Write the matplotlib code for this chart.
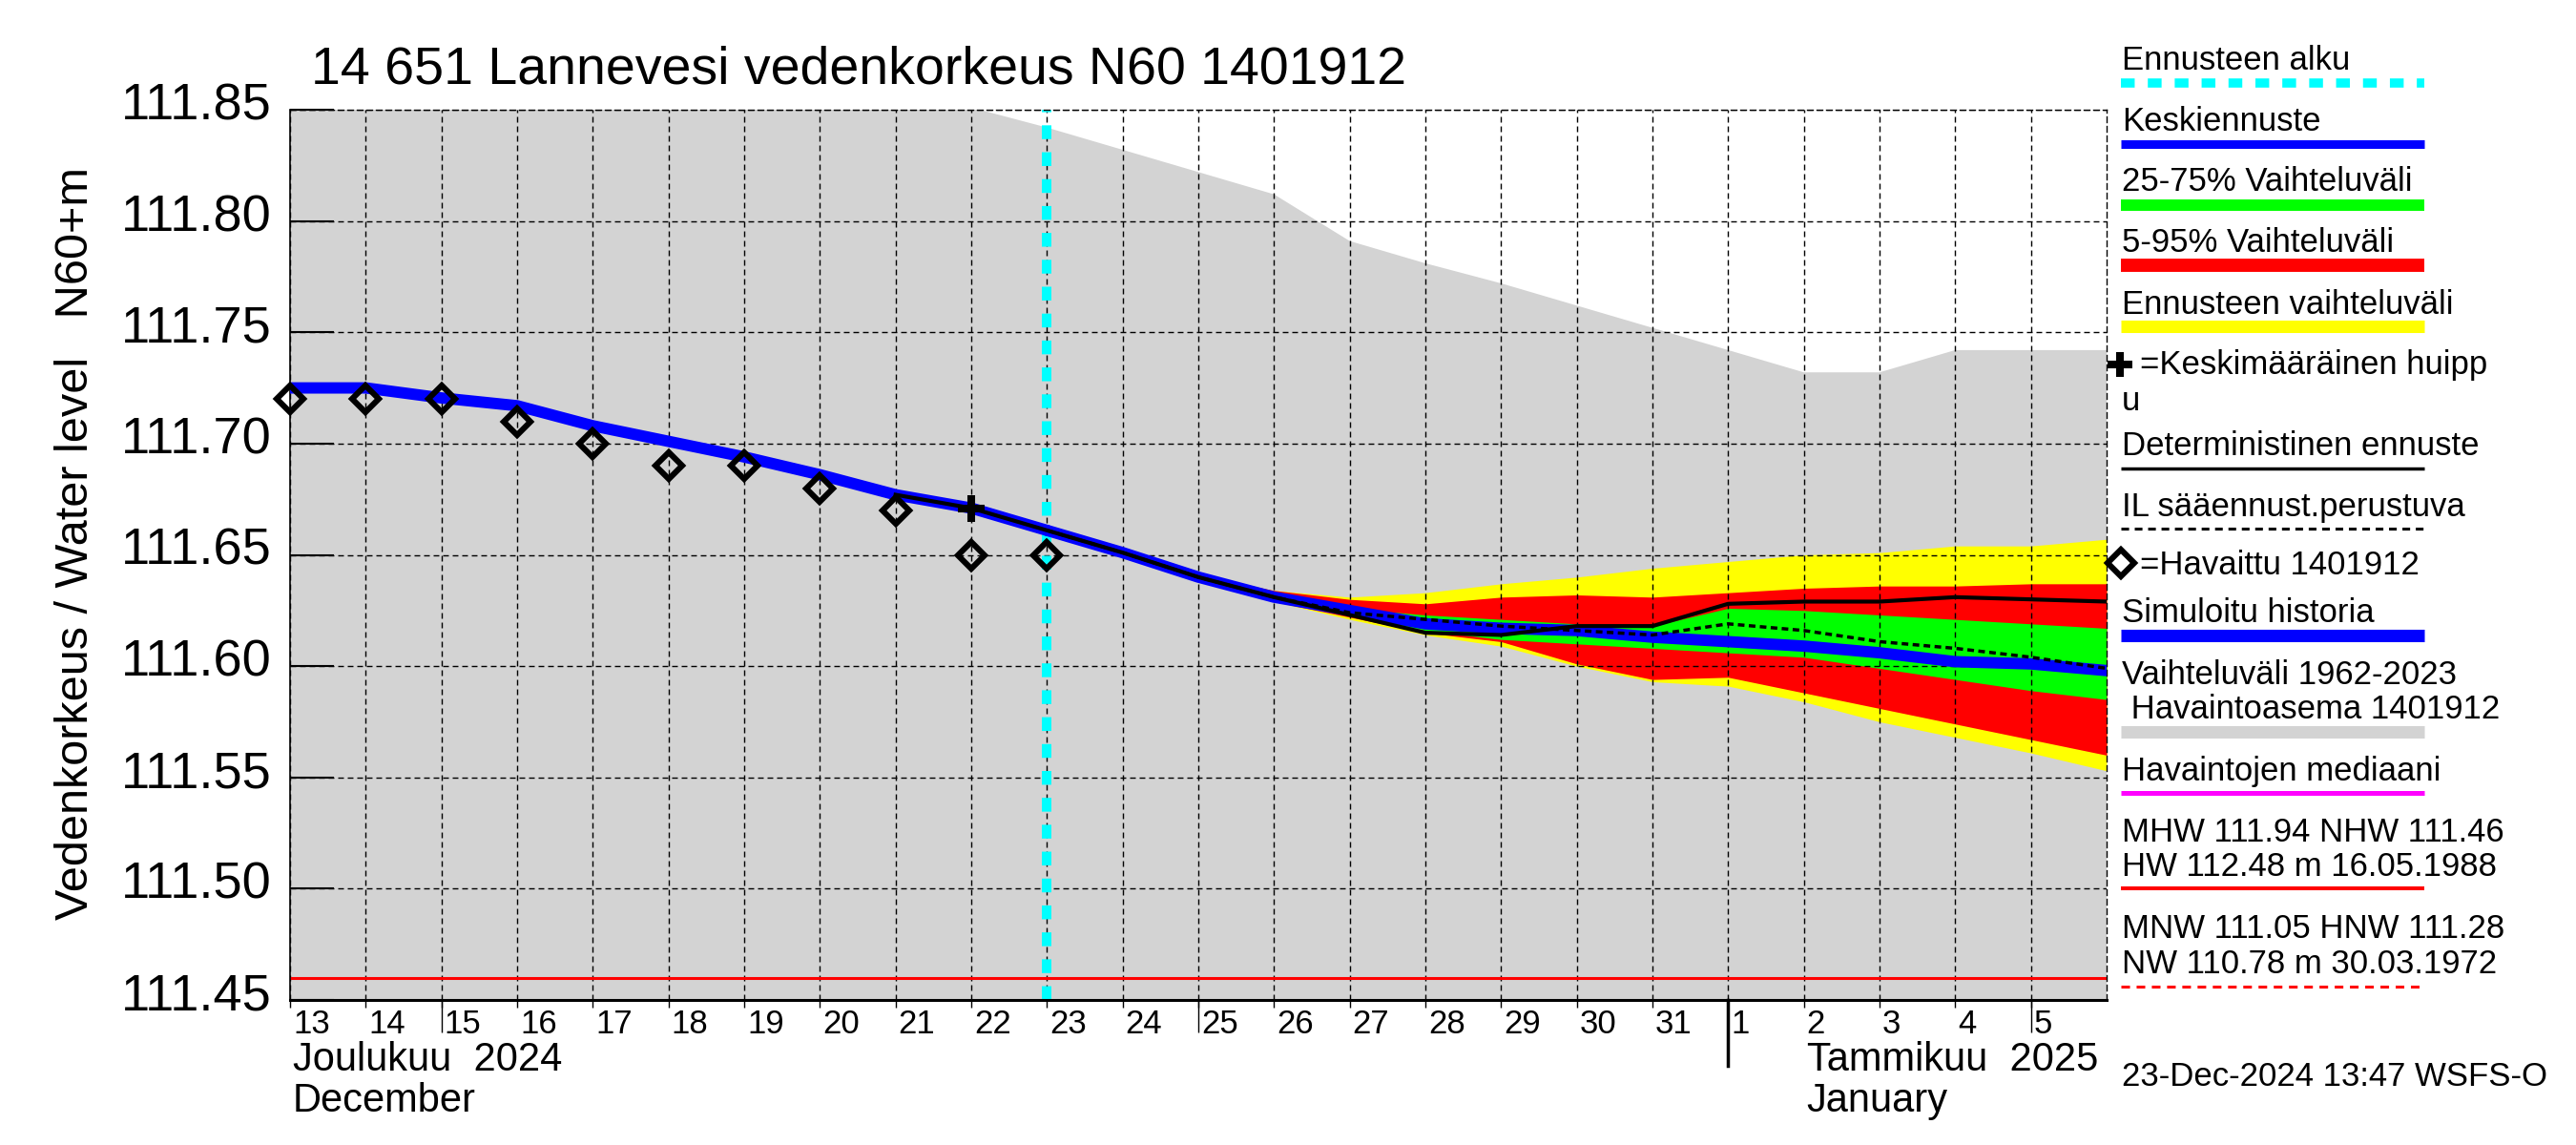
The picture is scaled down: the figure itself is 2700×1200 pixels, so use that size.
import numpy as np
import matplotlib
matplotlib.use("Agg")
import matplotlib.pyplot as plt
import matplotlib.dates as mdates
from matplotlib.lines import Line2D
from matplotlib.transforms import ScaledTranslation, blended_transform_factory

plt.rcParams['font.family'] = ['Liberation Sans', 'DejaVu Sans']
plt.rcParams['lines.scale_dashes'] = False

W, H, DPI = 2700, 1200, 100

# ---- data -------------------------------------------------------------
days = np.arange('2024-12-13', '2025-01-07', dtype='datetime64[D]')   # Dec 13 .. Jan 6
hist_days = days[:11]        # Dec 13 .. Dec 23
fc_days = days[10:]          # Dec 23 .. Jan 6
det_days = days[8:]          # Dec 21 .. Jan 6
long_tick_days = np.array(['2024-12-15', '2024-12-25', '2025-01-05'], dtype='datetime64[D]')
month_start = np.datetime64('2025-01-01')
forecast_start = np.datetime64('2024-12-23')
peak_day = np.datetime64('2024-12-22')
peak_level = 111.671

observed = [111.72, 111.72, 111.72, 111.71, 111.70, 111.69, 111.69, 111.68, 111.67, 111.65, 111.65]
sim_hist = [111.725, 111.725, 111.7205, 111.717, 111.708, 111.701, 111.694, 111.686, 111.677, 111.671, 111.661]

median_fc = [111.661, 111.651, 111.640, 111.631, 111.625, 111.619, 111.617, 111.616, 111.613,
             111.611, 111.609, 111.606, 111.602, 111.601, 111.598]
deterministic = [111.677, 111.671, 111.661, 111.651, 111.640, 111.631, 111.623, 111.615, 111.614,
                 111.618, 111.618, 111.628, 111.629, 111.629, 111.631, 111.630, 111.629]
il_fc = [111.661, 111.651, 111.640, 111.631, 111.624, 111.621, 111.618, 111.616, 111.614,
         111.619, 111.616, 111.611, 111.608, 111.604, 111.599]

yellow_hi = [111.661, 111.651, 111.641, 111.634, 111.631, 111.633, 111.637, 111.640, 111.644,
             111.647, 111.650, 111.651, 111.654, 111.654, 111.657]
red_hi = [111.661, 111.651, 111.641, 111.634, 111.630, 111.628, 111.631, 111.632, 111.631,
          111.633, 111.635, 111.636, 111.636, 111.637, 111.637]
green_hi = [111.661, 111.651, 111.640, 111.632, 111.626, 111.623, 111.621, 111.619, 111.618,
            111.626, 111.625, 111.623, 111.621, 111.619, 111.617]
green_lo = [111.661, 111.650, 111.640, 111.630, 111.623, 111.616, 111.612, 111.610, 111.608,
            111.606, 111.604, 111.599, 111.594, 111.589, 111.585]
red_lo = [111.661, 111.650, 111.639, 111.629, 111.622, 111.615, 111.611, 111.601, 111.594,
          111.595, 111.588, 111.581, 111.574, 111.567, 111.560]
yellow_lo = [111.661, 111.650, 111.639, 111.629, 111.621, 111.614, 111.609, 111.600, 111.593,
             111.591, 111.584, 111.575, 111.568, 111.561, 111.553]

# historical range 1962-2023 (upper envelope), lower edge is off-chart
clim_upper = [111.95, 111.95, 111.94, 111.93, 111.92, 111.91, 111.90, 111.89, 111.87, 111.851,
              111.842, 111.832, 111.822, 111.812, 111.791, 111.781, 111.772, 111.762, 111.752,
              111.742, 111.732, 111.732, 111.742, 111.742, 111.742]
clim_lower = 111.20

MHW, NHW, HW, HW_DATE = 111.94, 111.46, 112.48, "16.05.1988"
MNW, HNW, NW, NW_DATE = 111.05, 111.28, 110.78, "30.03.1972"

yticks = [111.45, 111.50, 111.55, 111.60, 111.65, 111.70, 111.75, 111.80, 111.85]

GRAY = '#d3d3d3'
GRID_LS = (0, (4.3, 2.9))
CYAN_LS = (0, (10.4, 9.9))

# ---- figure -----------------------------------------------------------
fig = plt.figure(figsize=(W / DPI, H / DPI), dpi=DPI)
ax = fig.add_axes([304 / W, 1 - 1048 / H, (2208 - 304) / W, (1048 - 115) / H])

ax.fill_between(days, clim_lower, clim_upper, color=GRAY, lw=0, zorder=1)
ax.fill_between(fc_days, yellow_lo, yellow_hi, color='#ffff00', lw=0, zorder=1.1)
ax.fill_between(fc_days, red_lo, red_hi, color='#ff0000', lw=0, zorder=1.2)
ax.fill_between(fc_days, green_lo, green_hi, color='#00ff00', lw=0, zorder=1.3)

ax.axhline(NHW, color='red', lw=2.2, zorder=2)
ax.axvline(forecast_start, color='#00ffff', lw=7.2, ls=CYAN_LS, zorder=2.5)

ax.plot(hist_days, sim_hist, color='blue', lw=8.6, solid_capstyle='round', zorder=3)
ax.plot(fc_days, median_fc, color='blue', lw=8.6, solid_capstyle='round', zorder=3)
ax.plot(det_days, deterministic, color='black', lw=3.0, zorder=3.2)
ax.plot(fc_days, il_fc, color='black', lw=2.5, ls=(0, (5, 3.3)), zorder=3.4)

ax.plot(hist_days, observed, ls='none', marker='D', ms=14.5, mfc='none', mec='black',
        mew=4.4, zorder=5, clip_on=False)
ax.plot([peak_day], [peak_level], ls='none', marker='+', ms=19.5, mew=5.8, color='black', zorder=5)

ax.set_xlim(days[0], days[-1])
ax.set_ylim(yticks[0], yticks[-1])

# y axis
ax.set_yticks(yticks, [f'{v:.2f}' for v in yticks])
ax.tick_params(axis='y', direction='in', length=33, width=1.5, labelsize=39, pad=14)

# x axis: one tick per day, longer ticks on 5th/15th/25th
tick_days = days[:-1]
ax.set_xticks(tick_days, [str(d.day) for d in tick_days.astype(object)])
ax.set_xticks(long_tick_days, minor=True)
ax.xaxis.remove_overlapping_locs = False
ax.tick_params(axis='x', which='major', direction='out', length=5.8, width=1, labelsize=25, pad=0.5)
ax.tick_params(axis='x', which='minor', direction='out', length=24.5, width=1)

ax.grid(True, which='major', color='black', lw=1.0, ls=GRID_LS)
ax.set_axisbelow('line')

for side in ('top', 'right'):
    ax.spines[side].set_linestyle(GRID_LS)
    ax.spines[side].set_linewidth(1.0)
ax.spines['left'].set_linewidth(1.2)
ax.spines['bottom'].set_linewidth(2.2)

for lbl in ax.get_xticklabels():
    lbl.set_horizontalalignment('left')
    lbl.set_transform(lbl.get_transform() + ScaledTranslation(3 / DPI, 0, fig.dpi_scale_trans))
for lbl in ax.get_yticklabels():
    lbl.set_transform(lbl.get_transform() + ScaledTranslation(0, 9 / DPI, fig.dpi_scale_trans))

# month separator and month names below the axis
trans = blended_transform_factory(ax.transData, ax.transAxes)
mx = mdates.date2num(month_start)
ax.plot([mx, mx], [0, -69 / 933], transform=trans, color='black', lw=2.5, clip_on=False)

shift = trans + ScaledTranslation(3 / DPI, 0, fig.dpi_scale_trans)
x_dec = mdates.date2num(days[0])
x_jan = mdates.date2num(month_start + np.timedelta64(1, 'D'))
ax.text(x_dec, -0.0793, "Joulukuu  2024", transform=shift, fontsize=30, va='baseline')
ax.text(x_dec, -0.1254, "December", transform=shift, fontsize=30, va='baseline')
ax.text(x_jan, -0.0793, "Tammikuu  2025", transform=shift, fontsize=30, va='baseline')
ax.text(x_jan, -0.1254, "January", transform=shift, fontsize=30, va='baseline')

# title and y label
fig.text(326 / W, 1 - 87 / H, "14 651 Lannevesi vedenkorkeus N60 1401912", fontsize=40,
         va='baseline')
fig.text(80 / W, 1 - 570 / H, "Vedenkorkeus / Water level   N60+m", rotation=90, fontsize=35,
         ha='center', va='center')

# ---- legend column on the right -----------------------------------------
LX, LX0, LX1 = 2224, 2223, 2541


def ltext(px, py, s, size=25):
    fig.text(px / W, 1 - py / H, s, fontsize=size, va='baseline')


def lline(py, color, lw, ls='-'):
    fig.add_artist(Line2D([LX0 / W, LX1 / W], [1 - py / H] * 2, color=color, lw=lw, ls=ls,
                          solid_capstyle='butt', dash_capstyle='butt'))


def lmark(px, py, **kw):
    fig.add_artist(Line2D([px / W], [1 - py / H], ls='none', **kw))


ltext(LX, 73, "Ennusteen alku")
lline(87, '#00ffff', 6.9, CYAN_LS)
ltext(LX, 137, "Keskiennuste")
lline(151, 'blue', 6.5)
ltext(LX, 200, "25-75% Vaihteluväli")
lline(215, '#00ff00', 8.6)
ltext(LX, 264, "5-95% Vaihteluväli")
lline(278, '#ff0000', 10)
ltext(LX, 329, "Ennusteen vaihteluväli")
lline(342, '#ffff00', 9.4)
lmark(2222, 382, marker='+', ms=19, mew=5.8, color='black')
ltext(2243, 392, "=Keskimääräinen huipp")
ltext(LX, 430, "u")
ltext(LX, 477, "Deterministinen ennuste")
lline(491, 'black', 2.5)
ltext(LX, 541, "IL sääennust.perustuva")
lline(554, 'black', 2.2, (0, (5.8, 4.3)))
lmark(2223, 590, marker='D', ms=14, mfc='none', mec='black', mew=4.4)
ltext(2243, 602, "=Havaittu 1401912")
ltext(LX, 652, "Simuloitu historia")
lline(666, 'blue', 9.4)
ltext(LX, 717, "Vaihteluväli 1962-2023")
ltext(LX, 753, " Havaintoasema 1401912")
lline(767, GRAY, 9.4)
ltext(LX, 818, "Havaintojen mediaani")
lline(831, '#ff00ff', 3.6)
ltext(LX, 882, f"MHW {MHW:.2f} NHW {NHW:.2f}")
ltext(LX, 918, f"HW {HW:.2f} m {HW_DATE}")
lline(931, 'red', 2.9)
ltext(LX, 983, f"MNW {MNW:.2f} HNW {HNW:.2f}")
ltext(LX, 1020, f"NW {NW:.2f} m {NW_DATE}")
lline(1034, 'red', 2.2, (0, (6.5, 5)))
ltext(LX, 1138, "23-Dec-2024 13:47 WSFS-O")

fig.savefig("out.png", dpi=DPI)
